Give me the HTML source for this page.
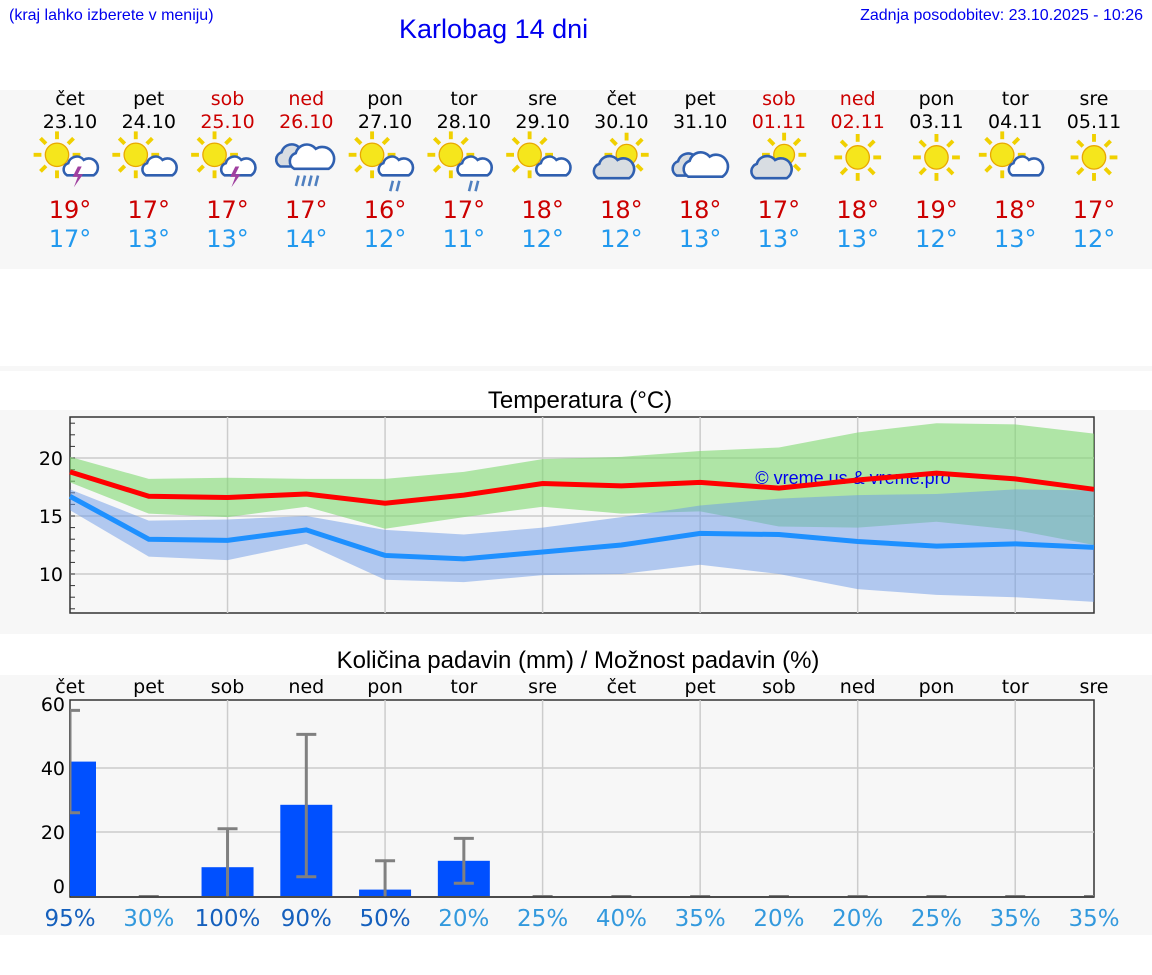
<!DOCTYPE html>
<html><head><meta charset="utf-8">
<style>
body{margin:0;width:1152px;height:975px;background:#fff;position:relative;overflow:hidden;font-family:"DejaVu Sans","Liberation Sans",sans-serif;}
.abs{position:absolute;}
.hdr{font-family:"Liberation Sans",sans-serif;color:#0000ee;}
.band{position:absolute;left:0;width:1152px;background:#f7f7f7;}
.col{position:absolute;width:80px;text-align:center;}
</style></head><body>
<div class="abs hdr" style="left:9px;top:7px;font-size:16px;">(kraj lahko izberete v meniju)</div>
<div class="abs hdr" style="left:399px;top:14px;font-size:27px;">Karlobag 14 dni</div>
<div class="abs hdr" style="right:9px;top:7px;font-size:16px;">Zadnja posodobitev: 23.10.2025 - 10:26</div>
<div class="band" style="top:90px;height:179px;"></div>
<div class="band" style="top:366px;height:5px;"></div>
<div class="band" style="top:410px;height:224px;"></div>
<div class="band" style="top:675px;height:260px;"></div>
<div id="days"></div>
<svg id="tchart" class="abs" style="left:0;top:0" width="1152" height="975"></svg>
<script>
const dayNames=["čet","pet","sob","ned","pon","tor","sre","čet","pet","sob","ned","pon","tor","sre"];
const dates=["23.10","24.10","25.10","26.10","27.10","28.10","29.10","30.10","31.10","01.11","02.11","03.11","04.11","05.11"];
const weekend=[0,0,1,1,0,0,0,0,0,1,1,0,0,0];
const iconTypes=["sunstorm","suncloud","sunstorm","rain","sunrain","sunrain","suncloud","cloudsun","clouds","cloudsun","sun","sun","suncloud","sun"];
const maxT=[18.8,16.7,16.6,16.9,16.1,16.8,17.8,17.6,17.9,17.4,18.1,18.7,18.2,17.3];
const maxHi=[20.1,18.2,18.3,18.2,18.2,18.8,19.9,20.1,20.6,20.9,22.2,23.0,22.9,22.1];
const maxLo=[17.9,15.2,14.9,15.8,13.9,14.9,15.8,15.2,15.4,14.1,14.0,14.5,13.8,12.5];
const minT=[16.7,13.0,12.9,13.8,11.6,11.3,11.9,12.5,13.5,13.4,12.8,12.4,12.6,12.3];
const minHi=[17.3,14.6,14.7,15.0,13.8,13.4,14.0,14.9,15.9,16.5,16.8,16.9,17.3,17.2];
const minLo=[15.5,11.5,11.2,12.6,9.5,9.3,9.9,10.0,10.8,10.0,8.7,8.2,8.0,7.6];
const hiLabels=["19°","17°","17°","17°","16°","17°","18°","18°","18°","17°","18°","19°","18°","17°"];
const loLabels=["17°","13°","13°","14°","12°","11°","12°","12°","13°","13°","13°","12°","13°","12°"];
const tTicks=[10,15,20];
const precip=[42,0,9,28.5,2,11,0,0,0,0,0,0,0,0];
const errLo=[26,0,0,6,0,4,0,0,0,0,0,0,0,0];
const errHi=[58,0,21,50.5,11,18,0,0,0,0,0,0,0,0];
const prob=[95,30,100,90,50,20,25,40,35,20,20,25,35,35];
const pTicks=[0,20,40,60];

const X0=70,X1=1094,N=14;
const xd=i=>X0+i*(X1-X0)/(N-1);
const yT=t=>690-11.6*t;
const yP=v=>896-3.2*v;
const NS="http://www.w3.org/2000/svg";
const svg=document.getElementById('tchart');
function mk(tag,attrs,parent){const e=document.createElementNS(NS,tag);for(const k in attrs)e.setAttribute(k,attrs[k]);(parent||svg).appendChild(e);return e;}

const days=document.getElementById('days');
for(let i=0;i<N;i++){
  const c=document.createElement('div');c.className='col';c.style.left=(xd(i)-40)+'px';c.style.top='88px';
  
  
  const col=weekend[i]?'#cc0000':'#000';
  c.innerHTML=`<div style="font-size:19px;color:${col};line-height:23px">${dayNames[i]}</div><div style="font-size:19px;color:${col};line-height:23px">${dates[i]}</div>`;
  days.appendChild(c);
  const h=document.createElement('div');h.className='col';h.style.left=(xd(i)-40)+'px';h.style.top='196px';
  
  
  h.innerHTML=`<div style="font-size:24px;color:#cc0000;line-height:29px">${hiLabels[i]}</div><div style="font-size:24px;color:#2299ee;line-height:28px">${loLabels[i]}</div>`;
  days.appendChild(h);
}
function sun(g,cx,cy,r){for(let a=0;a<360;a+=45){const rad=a*Math.PI/180;mk('line',{x1:cx+Math.cos(rad)*(r+3),y1:cy+Math.sin(rad)*(r+3),x2:cx+Math.cos(rad)*(r+9),y2:cy+Math.sin(rad)*(r+9),stroke:'#f0d000','stroke-width':3},g);}mk('circle',{cx,cy,r,fill:'#f5e61c',stroke:'#e8a800','stroke-width':1},g);}
function cloud(g,cx,cy,s,fill){mk('path',{d:`M${cx-12*s},${cy+8*s} a${6*s},${6*s} 0 0 1 ${1*s},${-11*s} a${8*s},${8*s} 0 0 1 ${14*s},${-3*s} a${6*s},${6*s} 0 0 1 ${9*s},${14*s} z`,fill:fill||'#fff',stroke:'#3060b0','stroke-width':2},g);}
for(let i=0;i<N;i++){
  const cx=xd(i),cy=160,t=iconTypes[i];
  const g=mk('g',{transform:`translate(${cx},${cy}) scale(1.3) translate(${-cx},${-cy})`});
  
  
  if(t==='sun'){sun(g,cx,cy-2,9);}
  else if(t==='clouds'){cloud(g,cx-6,cy+4,1,'#d8dde2');cloud(g,cx+4,cy+4,1.1,'#fff');}
  else if(t==='rain'){cloud(g,cx-8,cy-3,1,'#d8dde2');cloud(g,cx+4,cy-2,1.1,'#fff');for(let k=0;k<4;k++)mk('line',{x1:cx-6+k*5,y1:cy+12,x2:cx-8+k*5,y2:cy+20,stroke:'#5080c0','stroke-width':2},g);}
  else if(t==='cloudsun'){sun(g,cx+4,cy-4,8);cloud(g,cx-6,cy+6,1,'#d8dde2');}
  else {sun(g,cx-10,cy-4,9);cloud(g,cx+8,cy+5,0.85,'#fff');
    if(t==='sunstorm')mk('path',{d:`M${cx+6},${cy+5} l-4,8 h4 l-3,8 l7,-10 h-4 l3,-6z`,fill:'#a040a0'},g);
    if(t==='sunrain'){mk('line',{x1:cx+6,y1:cy+16,x2:cx+4,y2:cy+24,stroke:'#5080c0','stroke-width':2},g);mk('line',{x1:cx+11,y1:cy+16,x2:cx+9,y2:cy+24,stroke:'#5080c0','stroke-width':2},g);}
  }
}

const tt=mk('text',{x:580,y:408,'text-anchor':'middle','font-size':24,fill:'#000','font-family':'Liberation Sans, sans-serif'});tt.textContent='Temperatura (°C)';


mk('rect',{x:70,y:417,width:1024,height:196,fill:'#f7f7f7',stroke:'#333','stroke-width':1.5});
for(let i=2;i<N;i+=2)mk('line',{x1:xd(i),y1:417,x2:xd(i),y2:613,stroke:'#ccc','stroke-width':1.5});
for(const t of tTicks){mk('line',{x1:70,y1:yT(t),x2:1094,y2:yT(t),stroke:'#ccc','stroke-width':1.5});
  const l=mk('text',{x:63,y:yT(t)+7,'text-anchor':'end','font-size':19,fill:'#000'});l.textContent=t;
  
  }
for(let t=7;t<=23;t++)mk('line',{x1:70,y1:yT(t),x2:75,y2:yT(t),stroke:'#333'});
function band(hi,lo,fill,op,name){let d='';for(let i=0;i<N;i++)d+=(i?'L':'M')+xd(i)+','+yT(hi[i]);for(let i=N-1;i>=0;i--)d+='L'+xd(i)+','+yT(lo[i]);const p=mk('path',{d:d+'Z',fill,'fill-opacity':op});
  
  }
band(maxHi,maxLo,'#7ed870',0.6,'max-temp-band');
band(minHi,minLo,'#6b9ae8',0.5,'min-temp-band');
const wm=mk('text',{x:853,y:484,'text-anchor':'middle','font-size':18,fill:'#0000ee','font-family':'Liberation Sans, sans-serif'});wm.textContent='© vreme.us & vreme.pro';


function line(arr,col,name){const p=mk('polyline',{points:arr.map((v,i)=>xd(i)+','+yT(v)).join(' '),fill:'none',stroke:col,'stroke-width':5});
  
  }
line(maxT,'#ff0000','max-temp-line');
line(minT,'#1e90ff','min-temp-line');

const pt=mk('text',{x:578,y:668,'text-anchor':'middle','font-size':24,fill:'#000','font-family':'Liberation Sans, sans-serif'});pt.textContent='Količina padavin (mm) / Možnost padavin (%)';


mk('rect',{x:70,y:700,width:1024,height:197,fill:'#f7f7f7',stroke:'#333','stroke-width':1.5});
for(let i=2;i<N;i+=2)mk('line',{x1:xd(i),y1:700,x2:xd(i),y2:897,stroke:'#ccc','stroke-width':1.5});
for(const v of pTicks){if(v>0&&v<60)mk('line',{x1:70,y1:yP(v),x2:1094,y2:yP(v),stroke:'#ccc','stroke-width':1.5});
  const l=mk('text',{x:65,y:Math.min(yP(v)+7,893),'text-anchor':'end','font-size':19,fill:'#000'});l.textContent=v;
  
  }
const clip=mk('clipPath',{id:'pc'});mk('rect',{x:70,y:690,width:1024,height:207},clip);
const pg=mk('g',{'clip-path':'url(#pc)'});
for(let i=0;i<N;i++){
  if(precip[i]>0){const b=mk('rect',{x:xd(i)-26,y:yP(precip[i]),width:52,height:896-yP(precip[i]),fill:'#0050ff'},pg);
    
    }
  if(errHi[i]>0){mk('line',{x1:xd(i),y1:yP(errLo[i]),x2:xd(i),y2:yP(errHi[i]),stroke:'#808080','stroke-width':3},pg);
    mk('line',{x1:xd(i)-10,y1:yP(errHi[i]),x2:xd(i)+10,y2:yP(errHi[i]),stroke:'#808080','stroke-width':3},pg);
    if(errLo[i]>0)mk('line',{x1:xd(i)-10,y1:yP(errLo[i]),x2:xd(i)+10,y2:yP(errLo[i]),stroke:'#808080','stroke-width':3},pg);}
  else mk('line',{x1:xd(i)-10,y1:896,x2:xd(i)+10,y2:896,stroke:'#808080','stroke-width':2},pg);
  const d=mk('text',{x:xd(i),y:693,'text-anchor':'middle','font-size':19,fill:'#000'});d.textContent=dayNames[i];
  
  
  const p=mk('text',{x:xd(i),y:926,'text-anchor':'middle','font-size':23,fill:prob[i]>=50?'#1560bd':'#3399dd'});p.textContent=prob[i]+'%';
  
  
}
mk('line',{x1:70,y1:897,x2:1094,y2:897,stroke:'#333','stroke-width':1.5});
</script>
</body></html>
